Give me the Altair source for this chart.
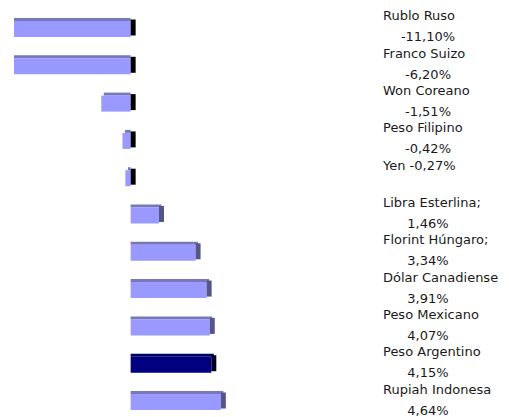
import altair as alt
import numpy as np
import pandas as pd

names = ["Rublo Ruso", "Franco Suizo", "Won Coreano", "Peso Filipino", "Yen",
         "Libra Esterlina", "Florint Húngaro", "Dólar Canadiense", "Peso Mexicano",
         "Peso Argentino", "Rupiah Indonesa"]
values = [-11.10, -6.20, -1.51, -0.42, -0.27, 1.46, 3.34, 3.91, 4.07, 4.15, 4.64]
label_line1 = ["Rublo Ruso", "Franco Suizo", "Won Coreano", "Peso Filipino", "Yen -0,27%",
               "Libra Esterlina;", "Florint Húngaro;", "Dólar Canadiense", "Peso Mexicano",
               "Peso Argentino", "Rupiah Indonesa"]
label_line2 = ["-11,10%", "-6,20%", "-1,51%", "-0,42%", "",
               "1,46%", "3,34%", "3,91%", "4,07%", "4,15%", "4,64%"]
highlight = "Peso Argentino"

df = pd.DataFrame({"name": names, "value": values, "line1": label_line1, "line2": label_line2})
df["end"] = df["value"].clip(lower=0)
is_hl = df["name"] == highlight
df["front"] = np.where(is_hl, "#000080", "#9999ff")
df["top"] = np.where(is_hl, "#000060", "#7777bb")
df["side"] = np.where(is_hl, "#000020", np.where(df["value"] < 0, "#000000", "#55558a"))

xs = alt.Scale(domain=[-6, 19], nice=False, zero=False)
y = alt.Y("name:N", sort=names, axis=None,
          scale=alt.Scale(paddingInner=0, paddingOuter=0.063))

base = alt.Chart(df)

top = base.mark_bar(height=3, yOffset=-9.5, xOffset=2.5, clip=True).encode(
    x=alt.X("value:Q", scale=xs, axis=None, stack=None),
    x2=alt.datum(0),
    y=y,
    color=alt.Color("top:N", scale=None),
)
front = base.mark_bar(height=16, clip=True).encode(
    x=alt.X("value:Q", scale=xs, axis=None, stack=None),
    x2=alt.datum(0),
    y=y,
    color=alt.Color("front:N", scale=None),
)
side = base.mark_tick(orient="vertical", thickness=5, size=16, xOffset=2.5,
                      yOffset=-1.5, clip=True, opacity=1).encode(
    x=alt.X("end:Q", scale=xs, axis=None),
    y=y,
    color=alt.Color("side:N", scale=None),
)
text1 = base.mark_text(align="left", baseline="middle", dy=-12.5, font="DejaVu Sans",
                       fontSize=13, color="#1a1a1a").encode(
    x=alt.value(369), y=y, text="line1:N")
text2 = base.mark_text(align="center", baseline="middle", dy=8.5, font="DejaVu Sans",
                       fontSize=13, color="#1a1a1a").encode(
    x=alt.value(414), y=y, text="line2:N")

chart = alt.layer(top, front, side, text1, text2).properties(
    width=486, height=415,
    padding={"left": 6, "top": 0, "right": 0, "bottom": 0},
    background="white",
).configure_view(stroke=None)

chart.save("out.html", embed_options={"renderer": "svg", "actions": False})
